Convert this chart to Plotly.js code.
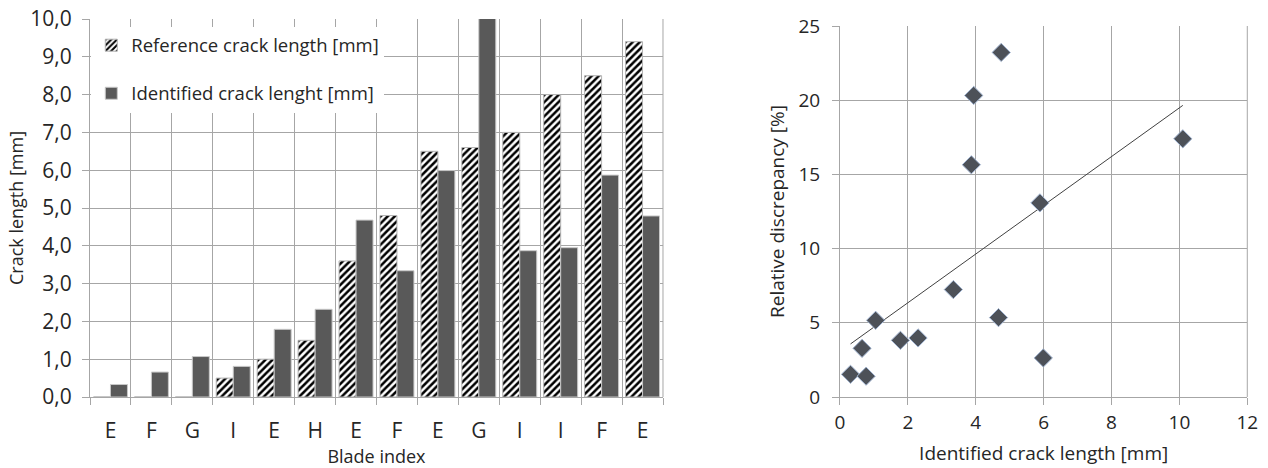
<!DOCTYPE html>
<html>
<head>
<meta charset="utf-8">
<script src="https://cdn.plot.ly/plotly-3.0.1.min.js"></script>
<style>html,body{margin:0;padding:0;background:#fff;}#chart{width:1268px;height:468px;}</style>
</head>
<body>
<div id="chart"></div>
<script>
// Left chart data
const bladeIndex = ["E","F","G","I","E","H","E","F","E","G","I","I","F","E"];
const referenceLength = [0, 0, 0, 0.5, 1.0, 1.5, 3.6, 4.8, 6.5, 6.6, 7.0, 8.0, 8.5, 9.4];
const identifiedLength = [0.33, 0.66, 1.07, 0.81, 1.79, 2.32, 4.68, 3.34, 5.99, 10.1, 3.87, 3.95, 5.87, 4.79];

// Right chart data
const scatterX = [0.31, 0.65, 0.77, 1.05, 1.78, 2.30, 3.34, 3.87, 3.94, 4.67, 4.75, 5.89, 5.99, 10.10];
const scatterY = [1.53, 3.28, 1.40, 5.17, 3.82, 3.98, 7.24, 15.65, 20.32, 5.35, 23.22, 13.08, 2.63, 17.40];

const idx = bladeIndex.map((_, i) => i);
const boundaries = bladeIndex.map((_, i) => i - 0.5).concat([bladeIndex.length - 0.5]);

// linear regression trendline
const n = scatterX.length;
const mx = scatterX.reduce((a,b)=>a+b,0)/n;
const my = scatterY.reduce((a,b)=>a+b,0)/n;
let sxy = 0, sxx = 0;
for (let i=0;i<n;i++){ sxy += (scatterX[i]-mx)*(scatterY[i]-my); sxx += (scatterX[i]-mx)**2; }
const slope = sxy/sxx, intercept = my - slope*mx;
const xmin = Math.min(...scatterX), xmax = Math.max(...scatterX);
const trendX = [xmin, xmax];
const trendY = trendX.map(x => intercept + slope*x);

const FONT = "Open Sans, sans-serif";
const TXT = "#262626";
const GRID = "#a6a6a6";

const traces = [
  {
    type: "bar", x: idx, y: referenceLength, xaxis: "x", yaxis: "y",
    name: "Reference crack length [mm]", legendgroup: "a",
    marker: {color: "#ffffff", line: {color: "#b3b3b3", width: 1},
             pattern: {shape: "/", fgcolor: "#000000", bgcolor: "#ffffff", size: 5, solidity: 0.5}},
    hoverinfo: "skip"
  },
  {
    type: "bar", x: idx, y: identifiedLength, xaxis: "x", yaxis: "y",
    name: "Identified crack lenght [mm]", legendgroup: "b",
    marker: {color: "#595959", line: {color: "#c8c8c8", width: 1}},
    hoverinfo: "skip"
  },
  {
    // invisible helper so the label axis is drawn
    type: "scatter", mode: "markers", x: idx, y: idx.map(() => null), xaxis: "x3", yaxis: "y",
    marker: {opacity: 0}, showlegend: false, hoverinfo: "skip"
  },
  {
    type: "scatter", mode: "lines", x: trendX, y: trendY, xaxis: "x2", yaxis: "y2",
    line: {color: "#404040", width: 1}, showlegend: false, hoverinfo: "skip"
  },
  {
    type: "scatter", mode: "markers", x: scatterX, y: scatterY, xaxis: "x2", yaxis: "y2",
    marker: {symbol: "diamond", size: 14, color: "#4d5158", line: {color: "#9fb2cf", width: 1}},
    showlegend: false, hoverinfo: "skip"
  }
];

const layout = {
  width: 1268, height: 468,
  margin: {l: 0, r: 0, t: 0, b: 0},
  paper_bgcolor: "#ffffff", plot_bgcolor: "#ffffff",
  separators: ",.",
  font: {family: FONT, color: TXT, size: 19},
  barmode: "group", bargap: 0.17, bargroupgap: 0,
  showlegend: true,
  legend: {
    x: 0.072, y: 0.943, xanchor: "left", yanchor: "top",
    bgcolor: "#ffffff", borderwidth: 0,
    font: {family: FONT, size: 18.5, color: TXT},
    traceorder: "grouped", tracegroupgap: 21, itemwidth: 30
  },
  xaxis: {
    domain: [0.07098, 0.52287], anchor: "y",
    range: [-0.5, bladeIndex.length - 0.5],
    tickmode: "array", tickvals: boundaries, showticklabels: false,
    ticks: "outside", ticklen: 7, tickcolor: GRID,
    showgrid: true, gridcolor: GRID, gridwidth: 1,
    showline: true, linecolor: GRID, zeroline: false
  },
  xaxis3: {
    domain: [0.07098, 0.52287], anchor: "y", overlaying: "x",
    range: [-0.5, bladeIndex.length - 0.5],
    tickmode: "array", tickvals: idx, ticktext: bladeIndex,
    ticks: "", showgrid: false, zeroline: false, showline: false,
    tickfont: {size: 21, color: TXT}, ticklabelstandoff: 19,
    title: {text: "Blade index", font: {size: 18, color: TXT}, standoff: 9}
  },
  yaxis: {
    domain: [0.15171, 0.95940], anchor: "x",
    range: [0, 10], tickmode: "linear", tick0: 0, dtick: 1, tickformat: ".1f",
    ticks: "outside", ticklen: 7, tickcolor: GRID,
    showgrid: true, gridcolor: GRID, gridwidth: 1,
    showline: true, linecolor: GRID, zeroline: false,
    tickfont: {size: 21, color: TXT}, ticklabelstandoff: 6,
    title: {text: "Crack length [mm]", font: {size: 18, color: TXT}, standoff: 2}
  },
  xaxis2: {
    domain: [0.66246, 0.98367], anchor: "y2",
    range: [0, 12], tickmode: "linear", tick0: 0, dtick: 2,
    ticks: "outside", ticklen: 7, tickcolor: GRID,
    showgrid: true, gridcolor: GRID, gridwidth: 1,
    showline: true, linecolor: GRID, zeroline: false,
    tickfont: {size: 19, color: TXT}, ticklabelstandoff: 1,
    title: {text: "Identified crack length [mm]", font: {size: 19, color: TXT}, standoff: 12}
  },
  yaxis2: {
    domain: [0.15171, 0.94444], anchor: "x2",
    range: [0, 25], tickmode: "linear", tick0: 0, dtick: 5,
    ticks: "outside", ticklen: 7, tickcolor: GRID,
    showgrid: true, gridcolor: GRID, gridwidth: 1,
    showline: true, linecolor: GRID, zeroline: false,
    tickfont: {size: 19, color: TXT}, ticklabelstandoff: 8,
    title: {text: "Relative discrepancy [%]", font: {size: 19, color: TXT}, standoff: 8}
  },
  shapes: [
    {type: "line", xref: "x domain", yref: "y domain", x0: 1, x1: 1, y0: 0, y1: 1, line: {color: GRID, width: 1}},
    {type: "line", xref: "x2 domain", yref: "y2 domain", x0: 1, x1: 1, y0: 0, y1: 1, line: {color: GRID, width: 1}}
  ]
};

Plotly.newPlot("chart", traces, layout, {staticPlot: true, displayModeBar: false});
</script>
</body>
</html>
